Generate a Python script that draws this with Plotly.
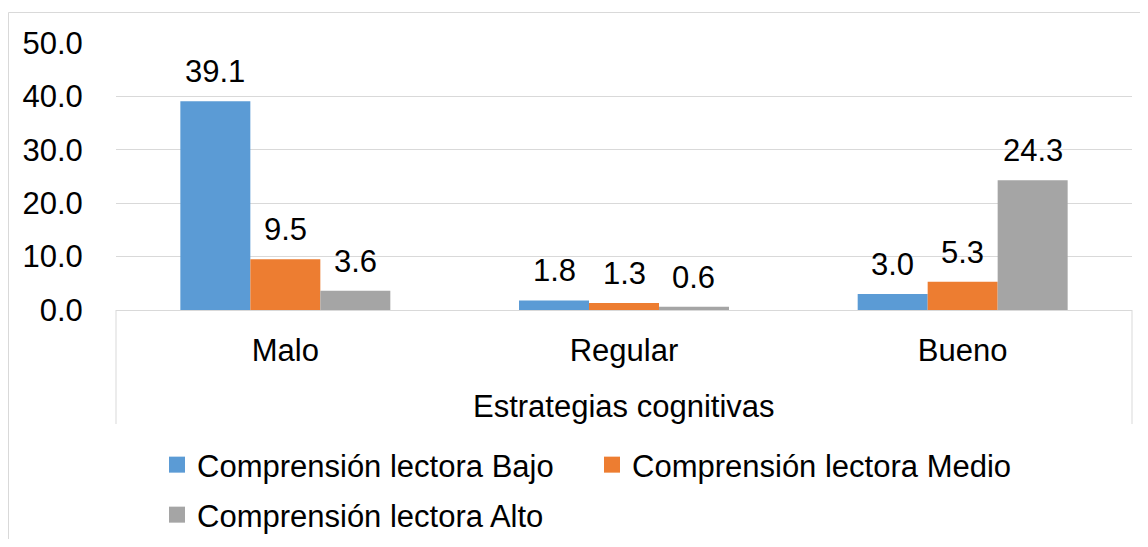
import plotly.graph_objects as go

categories = ["Malo", "Regular", "Bueno"]
series_names = ["Comprensión lectora Bajo", "Comprensión lectora Medio", "Comprensión lectora Alto"]
bajo = [39.1, 1.8, 3.0]
medio = [9.5, 1.3, 5.3]
alto = [3.6, 0.6, 24.3]
y_ticks = [0, 10, 20, 30, 40, 50]
x_title = "Estrategias cognitivas"

colors = ["#5B9BD5", "#ED7D31", "#A5A5A5"]
FONT = "Liberation Sans, Arial, sans-serif"
FS = 31

OFF = 8  # page body margin
W, H = 1148 - 2 * OFF, 547 - 2 * OFF
# plot area in screen pixels: x 116..1132, y 43..310
ML = 116 - OFF
MR = W - (1132 - OFF)
MT = 43 - OFF
MB = H - (310 - OFF)
PW = W - ML - MR
PH = H - MT - MB
BARGAP = 0.38


def py(screen_y):
    return (310 - screen_y) / PH


def px_x(screen_x):
    return (screen_x - 116) / PW


fig = go.Figure()
values = [bajo, medio, alto]
for i, (name, vals) in enumerate(zip(series_names, values)):
    fig.add_trace(go.Bar(x=categories, y=vals, name=name, marker=dict(color=colors[i], line=dict(width=0)),
                         showlegend=False))

# legend-only entries (larger square symbols)
for i, name in enumerate(series_names):
    fig.add_trace(go.Scatter(x=[None], y=[None], mode="markers", name=name,
                             marker=dict(symbol="square", size=17, color=colors[i]),
                             legend="legend" if i < 2 else "legend2", hoverinfo="skip"))

# data labels
bar_w = (1 - BARGAP) * (PW / len(categories)) / 3
for i, vals in enumerate(values):
    for c, v in zip(categories, vals):
        fig.add_annotation(x=c, y=v, xref="x", yref="y", text=f"{v:.1f}", showarrow=False,
                           xshift=(i - 1) * bar_w, yshift=10, yanchor="bottom",
                           font=dict(family=FONT, size=FS, color="#000000"))

# axis title
fig.add_annotation(x=0.5, y=py(406), xref="paper", yref="paper", text=x_title, showarrow=False,
                   yanchor="middle", xanchor="center", font=dict(family=FONT, size=FS, color="#000000"))

line_col = "#D9D9D9"
# category box verticals
for xv in (0, 1):
    fig.add_shape(type="line", xref="paper", yref="paper", x0=xv, x1=xv, y0=0, y1=py(424),
                  line=dict(color=line_col, width=1))
# outer chart border
fig.add_shape(type="rect", xref="paper", yref="paper", x0=px_x(8.5), x1=px_x(1200), y0=py(12.5), y1=py(600),
              line=dict(color=line_col, width=1), fillcolor="rgba(0,0,0,0)", layer="below")

fig.update_layout(
    width=W, height=H,
    margin=dict(l=ML, r=MR, t=MT, b=MB, pad=0, autoexpand=False),
    paper_bgcolor="white", plot_bgcolor="white",
    barmode="group", bargap=BARGAP, bargroupgap=0,
    font=dict(family=FONT, size=FS, color="#000000"),
    xaxis=dict(type="category", categoryorder="array", categoryarray=categories, range=[-0.5, 2.5],
               showgrid=False, zeroline=False, showline=True, linecolor=line_col, linewidth=1,
               ticks="outside", ticklen=13, tickcolor="rgba(0,0,0,0)", automargin=False,
               tickfont=dict(family=FONT, size=FS, color="#000000")),
    yaxis=dict(range=[0, 50], tickvals=y_ticks, tickformat=".1f", showgrid=True, gridcolor=line_col,
               gridwidth=1, zeroline=False, showline=False, ticks="outside", ticklen=26,
               tickcolor="rgba(0,0,0,0)", automargin=False,
               tickfont=dict(family=FONT, size=FS, color="#000000")),
    legend=dict(orientation="h", x=px_x(157), xanchor="left", y=py(438), yanchor="top",
                entrywidth=390, entrywidthmode="pixels", bgcolor="rgba(0,0,0,0)",
                font=dict(family=FONT, size=FS, color="#000000")),
    legend2=dict(orientation="h", x=px_x(157), xanchor="left", y=py(488), yanchor="top",
                 bgcolor="rgba(0,0,0,0)", font=dict(family=FONT, size=FS, color="#000000")),
)

fig.write_html("out.html")
